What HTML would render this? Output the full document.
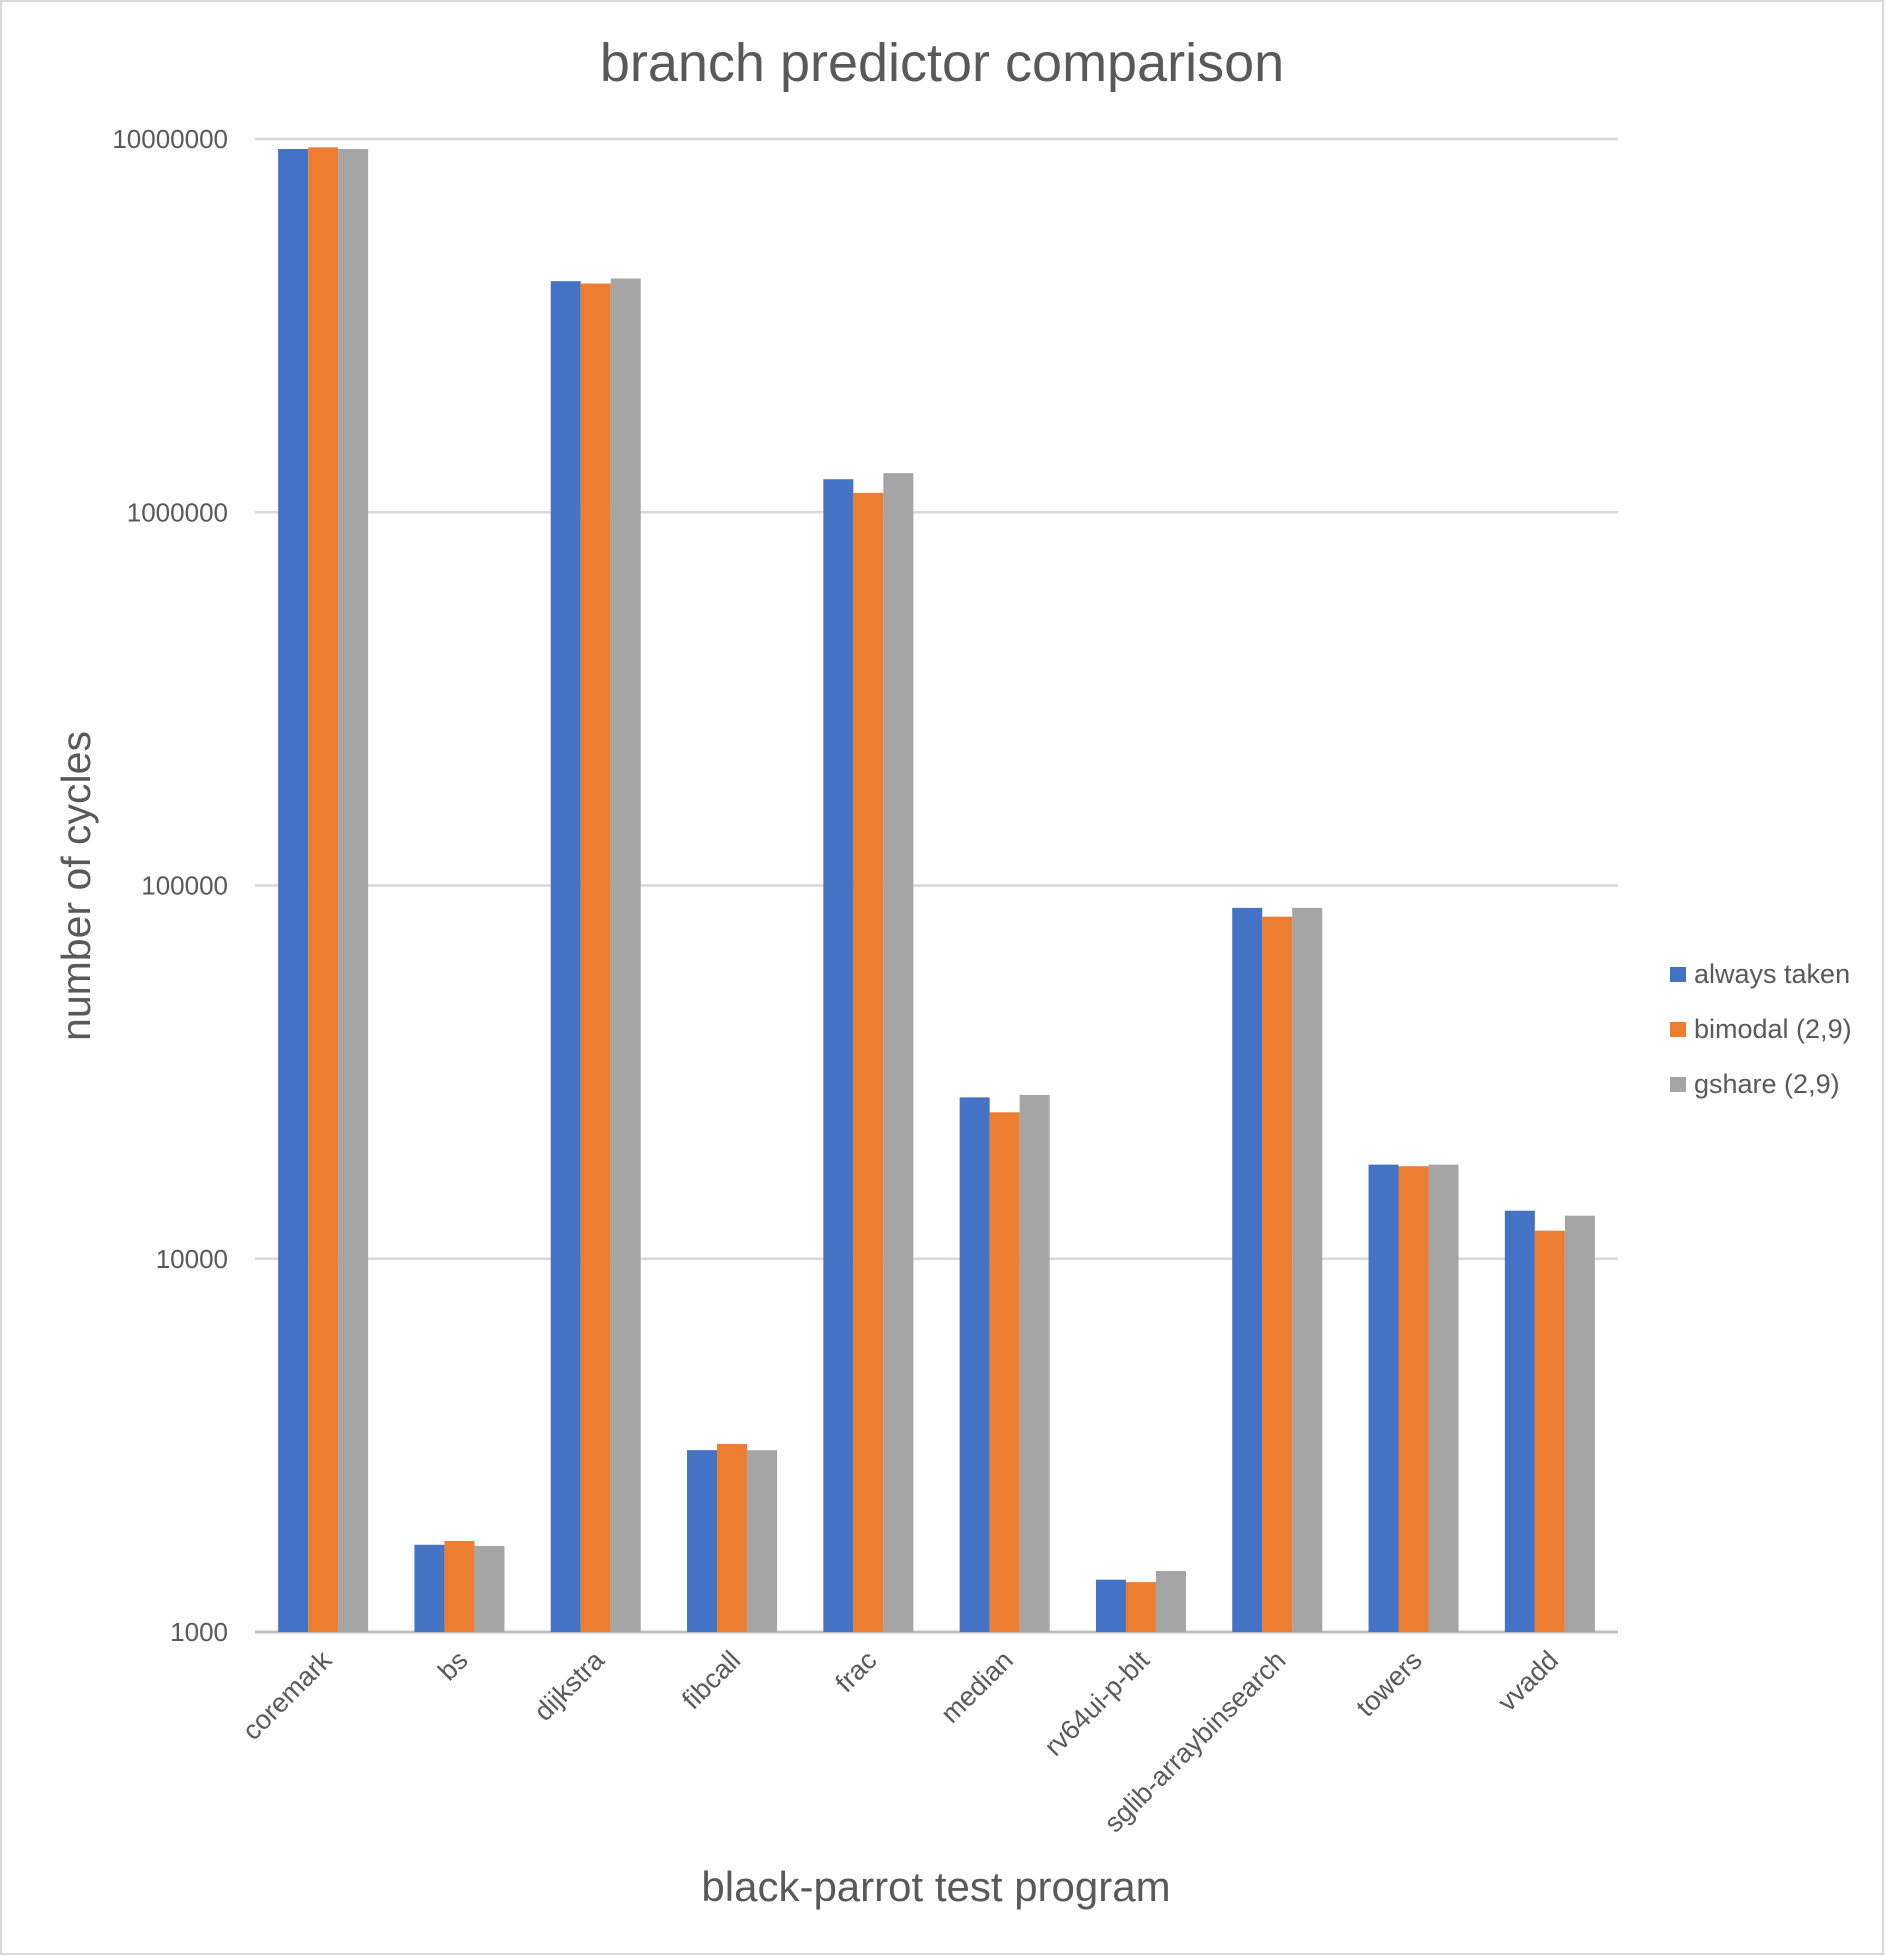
<!DOCTYPE html>
<html><head><meta charset="utf-8"><style>
html,body{margin:0;padding:0;background:#fff}
svg{display:block;font-family:"Liberation Sans",sans-serif}
</style></head><body>
<svg id="chart" width="1886" height="1956" viewBox="0 0 1886 1956">
<rect x="1" y="1" width="1882" height="1953" fill="#fff" stroke="#d9d9d9" stroke-width="2"/>
<text x="942" y="81" font-size="54" fill="#595959" text-anchor="middle">branch predictor comparison</text>
<g id="grid"></g>
<g id="bars"></g>
<g id="yticks"></g>
<g id="xticks"></g>
<text transform="translate(90,886) rotate(-90)" font-size="41" fill="#595959" text-anchor="middle">number of cycles</text>
<text x="936" y="1901" font-size="42" fill="#595959" text-anchor="middle">black-parrot test program</text>
<g id="legend"></g>
</svg>
<script>
const categories=["coremark","bs","dijkstra","fibcall","frac","median","rv64ui-p-blt","sglib-arraybinsearch","towers","vvadd"];
const seriesNames=["always taken","bimodal (2,9)","gshare (2,9)"];
const alwaysTaken=[9400000,1713,4160000,3070,1226000,27060,1381,87100,17870,13450];
const bimodal=[9500000,1753,4100000,3190,1127000,24680,1360,82500,17700,11890];
const gshare=[9400000,1700,4230000,3070,1273000,27480,1457,87100,17870,13040];
const yTicks=[1000,10000,100000,1000000,10000000];
const colors=["#4472c4","#ed7d31","#a5a5a5"];
const NS="http://www.w3.org/2000/svg";
const L=255,R=1618,T=139,B=1632;
const lmin=3,lmax=7;
function y(v){return B-(Math.log10(v)-lmin)/(lmax-lmin)*(B-T);}
const cw=(R-L)/categories.length;
function x(i){return L+cw*i;}
function mk(tag,attrs,parent){const e=document.createElementNS(NS,tag);for(const k in attrs)e.setAttribute(k,attrs[k]);parent.appendChild(e);return e;}
const grid=document.getElementById('grid'),bars=document.getElementById('bars'),yt=document.getElementById('yticks'),xt=document.getElementById('xticks'),lg=document.getElementById('legend');
yTicks.forEach(t=>{
  const ln=mk('line',{x1:L,x2:R,y1:y(t),y2:y(t),stroke:t===1000?'#bfbfbf':'#d9d9d9','stroke-width':t===1000?3:2.5},grid);
  
  
  const tx=mk('text',{x:228,y:y(t)+9,'font-size':26,fill:'#595959','text-anchor':'end'},yt);
  tx.textContent=String(t);
  
  
});
const series=[alwaysTaken,bimodal,gshare];
const bw=30,gap=(cw-3*bw)/2;
categories.forEach((c,i)=>{
  series.forEach((s,j)=>{
    const yy=y(s[i]);
    const r=mk('rect',{x:x(i)+gap+j*bw,y:yy,width:bw,height:B-yy,fill:colors[j]},bars);
    
    
  });
  const cx=x(i)+cw/2+10;
  const tx=mk('text',{transform:'translate('+cx+',1662) rotate(-45)','font-size':27,fill:'#595959','text-anchor':'end'},xt);
  tx.textContent=c;
  
  
});
seriesNames.forEach((n,j)=>{
  const ly=967+j*55;
  const g=mk('g',{},lg);
  
  
  mk('rect',{x:1670,y:ly,width:16,height:15,fill:colors[j]},g);
  const t=mk('text',{x:1694,y:ly+16,'font-size':27,fill:'#595959'},g);
  t.textContent=n;
});
</script>
</body></html>
